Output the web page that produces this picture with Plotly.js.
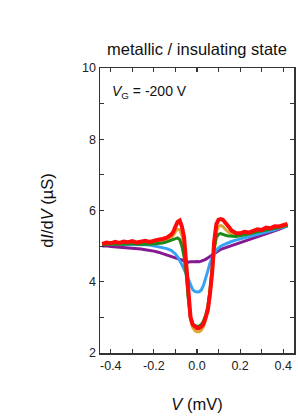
<!DOCTYPE html>
<html>
<head>
<meta charset="utf-8">
<script src="https://cdn.plot.ly/plotly-3.0.1.min.js"></script>
<style>html,body{margin:0;padding:0;background:#fff;}#chart{width:298px;height:420px;}</style>
</head>
<body>
<div id="chart"></div>
<script>
var biasV = [-0.44,-0.42,-0.40,-0.38,-0.36,-0.34,-0.32,-0.30,-0.28,-0.26,-0.24,-0.22,-0.20,-0.18,-0.16,-0.14,-0.12,
  -0.11,-0.10,-0.09,-0.08,-0.07,-0.06,-0.05,-0.04,-0.03,-0.02,-0.01,0,0.01,0.02,0.03,0.04,0.05,0.06,0.07,0.08,0.09,0.10,0.11,0.12,0.13,0.14,0.15,0.16,
  0.18,0.20,0.22,0.24,0.26,0.28,0.30,0.32,0.34,0.36,0.38,0.40,0.42];

var purpleG = [5.00,5.01,4.99,4.98,4.99,4.97,4.95,4.96,4.93,4.92,4.90,4.89,4.86,4.83,4.79,4.75,4.71,
  4.69,4.66,4.64,4.61,4.59,4.57,4.56,4.55,4.56,4.55,4.56,4.57,4.56,4.58,4.60,4.63,4.67,4.71,4.76,4.80,4.84,4.88,4.91,4.93,4.95,4.97,5.00,5.02,
  5.06,5.10,5.14,5.18,5.22,5.26,5.29,5.33,5.37,5.42,5.47,5.52,5.58];

var blueG = [5.05,5.05,5.05,5.06,5.05,5.06,5.05,5.05,5.05,5.04,5.04,5.03,5.01,4.99,4.96,4.93,4.88,
  4.84,4.78,4.70,4.60,4.48,4.35,4.20,4.03,3.88,3.78,3.73,3.71,3.72,3.77,3.90,4.08,4.30,4.52,4.68,4.80,4.89,4.95,5.00,5.03,5.06,5.09,5.11,5.13,
  5.17,5.20,5.23,5.27,5.30,5.34,5.37,5.40,5.43,5.46,5.50,5.53,5.56];

var greenG = [5.04,5.05,5.04,5.06,5.05,5.06,5.05,5.07,5.05,5.06,5.06,5.05,5.06,5.07,5.09,5.12,5.16,
  5.19,5.22,5.23,5.18,5.00,4.70,4.20,3.50,3.00,2.82,2.77,2.75,2.76,2.80,2.90,3.05,3.30,3.75,4.35,4.95,5.25,5.33,5.35,5.34,5.31,5.29,5.28,5.27,
  5.27,5.29,5.31,5.34,5.37,5.40,5.42,5.45,5.47,5.50,5.52,5.56,5.58];

var orangeG = [5.05,5.07,5.06,5.08,5.07,5.09,5.08,5.10,5.08,5.10,5.11,5.10,5.12,5.13,5.15,5.18,5.24,
  5.30,5.40,5.47,5.46,5.30,5.00,4.40,3.55,2.95,2.72,2.63,2.60,2.60,2.64,2.74,2.92,3.18,3.60,4.20,5.00,5.40,5.55,5.58,5.55,5.48,5.42,5.38,5.35,
  5.32,5.33,5.35,5.36,5.39,5.42,5.43,5.47,5.48,5.52,5.53,5.57,5.59];

var redG = [5.06,5.10,5.08,5.12,5.09,5.13,5.11,5.14,5.10,5.12,5.15,5.12,5.16,5.18,5.20,5.24,5.32,
  5.40,5.55,5.68,5.72,5.55,5.25,4.60,3.65,3.00,2.80,2.73,2.70,2.70,2.74,2.82,2.98,3.20,3.65,4.25,5.15,5.62,5.74,5.76,5.74,5.68,5.60,5.52,5.44,
  5.37,5.36,5.40,5.38,5.44,5.47,5.45,5.52,5.50,5.56,5.55,5.60,5.62];

var xTickVals = [-0.4,-0.2,0,0.2,0.4];
var xTickText = ['-0.4','-0.2','0.0','0.2','0.4'];
var yTickVals = [2,4,6,8,10];
var yTickText = ['2','4','6','8','10'];

var series = [
  {y: purpleG, color: '#86198f', width: 3},
  {y: blueG, color: '#35a2f4', width: 3},
  {y: orangeG, color: '#dca534', width: 3},
  {y: greenG, color: '#1b8a1b', width: 3},
  {y: redG, color: '#ff0a0a', width: 4}
];
var traces = series.map(function(s){
  return {x: biasV, y: s.y, type: 'scatter', mode: 'lines', line: {color: s.color, width: s.width}, showlegend: false, hoverinfo: 'skip'};
});

var fontFam = 'Liberation Sans, Arial, sans-serif';
var axisCommon = {
  showline: true, linecolor: '#333', linewidth: 1.5, mirror: 'ticks',
  ticks: 'inside', ticklen: 4, tickwidth: 1.2, tickcolor: '#333',
  showgrid: false, zeroline: false, tickmode: 'array',
  tickfont: {family: fontFam, size: 12.5, color: '#222'}
};

var layout = {
  width: 298, height: 420,
  margin: {l: 100, r: 4, t: 68, b: 67},
  paper_bgcolor: '#fff', plot_bgcolor: '#fff',
  title: {text: 'metallic / insulating state', font: {family: fontFam, size: 16.5, color: '#111'},
    xref: 'paper', x: 0.5, xanchor: 'center', yref: 'container', y: 0.883, yanchor: 'middle'},
  xaxis: Object.assign({}, axisCommon, {
    range: [-0.45, 0.45], tickvals: xTickVals, ticktext: xTickText,
    minor: {tickmode: 'linear', tick0: 0, dtick: 0.1, ticks: 'inside', ticklen: 4, tickcolor: '#333', tickwidth: 1.2},
    title: {text: '<i>V</i> (mV)', font: {family: fontFam, size: 16.5, color: '#111'}, standoff: 27}
  }),
  yaxis: Object.assign({}, axisCommon, {
    range: [2, 10], tickvals: yTickVals, ticktext: yTickText,
    minor: {tickmode: 'linear', tick0: 0, dtick: 1, ticks: 'inside', ticklen: 4, tickcolor: '#333', tickwidth: 1.2},
    title: {text: 'd<i>I</i>/d<i>V</i> (µS)', font: {family: fontFam, size: 16.5, color: '#111'}, standoff: 24}
  }),
  annotations: [{
    text: '<i>V</i><sub>G</sub> = -200 V', xref: 'paper', yref: 'paper', x: 0.052, y: 0.915,
    xanchor: 'left', yanchor: 'middle', showarrow: false,
    font: {family: fontFam, size: 14, color: '#111'}
  }]
};

Plotly.newPlot('chart', traces, layout, {staticPlot: true, displayModeBar: false});
</script>
</body>
</html>
